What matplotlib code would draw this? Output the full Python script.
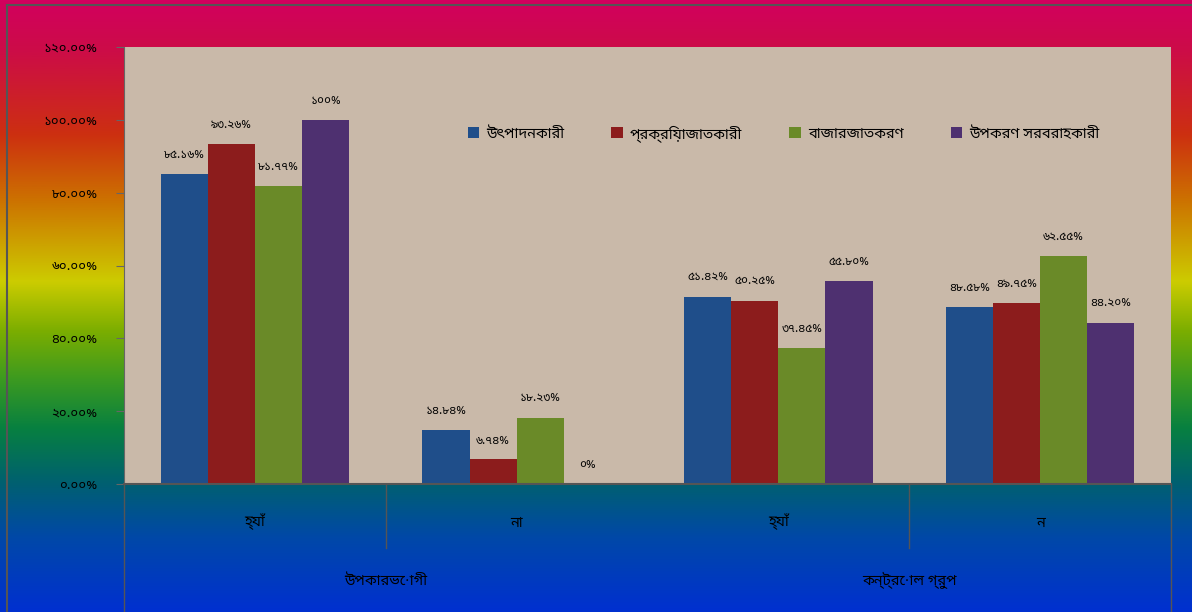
import numpy as np
import matplotlib
matplotlib.use('Agg')
import matplotlib.pyplot as plt
from matplotlib import font_manager
from matplotlib.colors import LinearSegmentedColormap
from matplotlib.lines import Line2D
from matplotlib.ft2font import FT2Font

# data
groups = ['হ্যাঁ', 'না', 'হ্যাঁ', 'ন']
outer_groups = ['উপকারভোগী', 'কন্ট্রোল গ্রুপ']
series_names = ['উৎপাদনকারী', 'প্রক্রিয়াজাতকারী', 'বাজারজাতকরণ', 'উপকরণ সরবরাহকারী']
producer = [85.16, 14.84, 51.42, 48.58]
processor = [93.26, 6.74, 50.25, 49.75]
marketing = [81.77, 18.23, 37.45, 62.55]
supplier = [100, 0, 55.80, 44.20]
y_ticks = [0, 20, 40, 60, 80, 100, 120]

colors = ['#1f4e8a', '#8c1c1c', '#6a8a28', '#4e3070']

# find a font that has bengali glyphs, prefer noto if there
cands = []
for f in font_manager.fontManager.ttflist:
    try:
        if 0x0995 in FT2Font(f.fname).get_charmap():
            cands.append(f.name)
    except Exception:
        pass
bn_font = None
for c in cands:
    if 'Noto' in c:
        bn_font = c
        break
if bn_font is None and cands:
    bn_font = cands[0]
fams = [bn_font, 'DejaVu Sans'] if bn_font else ['DejaVu Sans']
plt.rcParams['font.family'] = fams

bn_digits = str.maketrans('0123456789', '০১২৩৪৫৬৭৮৯')

def bn(s):
    return s.translate(bn_digits)

def val_label(v):
    if v == int(v):
        return bn('%d%%' % v)
    return bn('%.2f%%' % v)

fig = plt.figure(figsize=(11.92, 6.12), dpi=100)

# gradient background over whole figure
bg = fig.add_axes([0, 0, 1, 1], zorder=0)
cmap = LinearSegmentedColormap.from_list('bgrad', [
    (0.0, '#d2005e'), (0.08, '#cc0c48'), (0.22, '#cc3010'), (0.33, '#cc7400'),
    (0.46, '#cccc00'), (0.54, '#7cae00'), (0.62, '#3c9a20'), (0.70, '#078040'),
    (0.79, '#006070'), (0.88, '#0048a8'), (1.0, '#0030d0')])
grad = np.linspace(0, 1, 256).reshape(-1, 1)
bg.imshow(grad, aspect='auto', cmap=cmap, extent=[0, 1, 0, 1], origin='upper')
bg.set_xlim(0, 1)
bg.set_ylim(0, 1)
bg.axis('off')
# chart border (left and top)
bg.plot([7 / 1192, 7 / 1192], [0, 1 - 5 / 612], color='#555555', lw=1.5)
bg.plot([7 / 1192, 1], [1 - 5 / 612, 1 - 5 / 612], color='#555555', lw=1.5)

ax = fig.add_axes([124 / 1192, 128 / 612, 1047 / 1192, 437 / 612], zorder=1)
ax.set_facecolor('#c9b9a9')

x = np.arange(len(groups))
w = 0.18
all_series = [producer, processor, marketing, supplier]
for i, (vals, name) in enumerate(zip(all_series, series_names)):
    pos = x + (i - 1.5) * w
    ax.bar(pos, vals, width=w, color=colors[i], label=name, zorder=2)
    for xp, v in zip(pos, vals):
        ax.annotate(val_label(v), (xp, v), xytext=(0, 14), textcoords='offset points',
                    ha='center', va='center', fontsize=8.5, color='black')

ax.set_xlim(-0.5, 3.5)
ax.set_ylim(0, 120)
ax.set_yticks(y_ticks)
ax.set_yticklabels([bn('%.2f%%' % t) for t in y_ticks], fontsize=9.5)
ax.tick_params(axis='y', direction='out', length=6, color='#666666', pad=13)
ax.set_xticks([])
for s in ['top', 'right']:
    ax.spines[s].set_visible(False)
ax.spines['left'].set_color('#666666')
ax.spines['bottom'].set_color('#555555')
ax.spines['bottom'].set_linewidth(1.5)

# category labels below the plot
trans = ax.get_xaxis_transform()
for xi, g in zip(x, groups):
    ax.text(xi, -0.087, g, transform=trans, ha='center', va='center', fontsize=10.5, color='black')
for xc, g in zip([0.5, 2.5], outer_groups):
    ax.text(xc, -0.22, g, transform=trans, ha='center', va='center', fontsize=10.5, color='black')
for xs in [0.5, 2.5]:
    ax.add_line(Line2D([xs, xs], [0, -0.146], transform=trans, color='#555555', lw=1, clip_on=False))
for xs in [-0.5, 3.5]:
    ax.add_line(Line2D([xs, xs], [0, -0.3], transform=trans, color='#555555', lw=1, clip_on=False))

ax.legend(loc='center', bbox_to_anchor=(0.63, 0.803), ncol=4, frameon=False,
          fontsize=10.5, handlelength=0.8, handleheight=0.8, columnspacing=3.2,
          handletextpad=0.5)

fig.savefig('out.png', dpi=100)
